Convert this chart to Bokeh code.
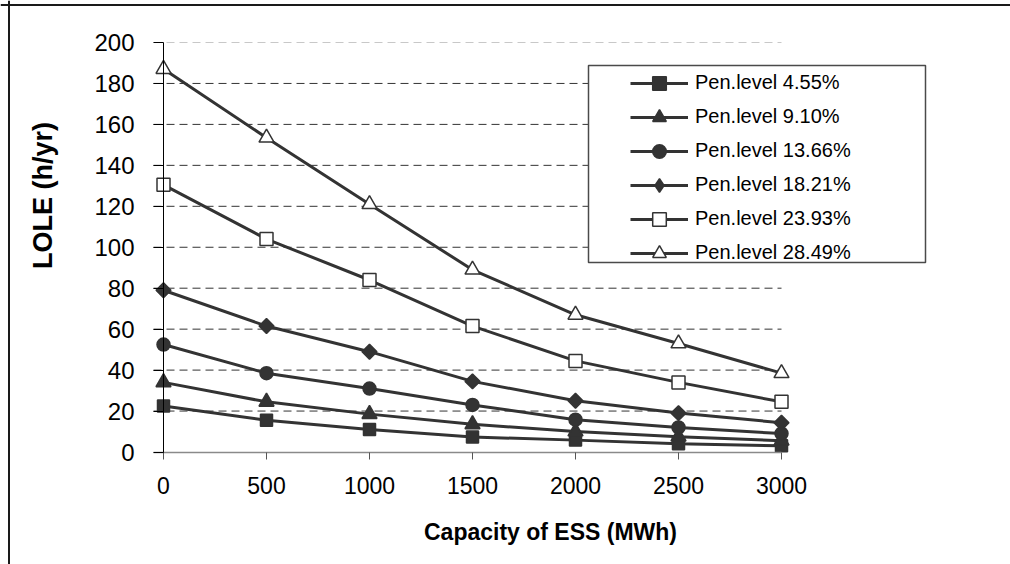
from math import pi
from bokeh.plotting import figure
from bokeh.models import (Range1d, LinearAxis, FixedTicker, Legend, LegendItem,
                          Label, Span)
from bokeh.embed import file_html
from bokeh.resources import INLINE

# ---------------- data ----------------
capacity = [0, 500, 1000, 1500, 2000, 2500, 3000]
pen_4_55 = [22.5, 15.5, 11, 7.3, 5.8, 4, 3]
pen_9_10 = [34, 24.5, 18.5, 13.5, 10, 7.5, 5.5]
pen_13_66 = [52.5, 38.5, 31, 23, 15.8, 12, 9]
pen_18_21 = [79, 61.5, 49, 34.5, 25, 19, 14.3]
pen_23_93 = [130.5, 104, 84, 61.5, 44.5, 34, 24.5]
pen_28_49 = [187, 153.5, 121, 89, 67, 53, 38.5]
series_names = ["Pen.level 4.55%", "Pen.level 9.10%", "Pen.level 13.66%",
                "Pen.level 18.21%", "Pen.level 23.93%", "Pen.level 28.49%"]
x_ticks = [0, 500, 1000, 1500, 2000, 2500, 3000]
y_ticks = [0, 20, 40, 60, 80, 100, 120, 140, 160, 180, 200]
x_title = "Capacity of ESS (MWh)"
y_title = "LOLE (h/yr)"

# ---------------- layout (pixel geometry) ----------------
W, H = 1010, 564
X0_PX, X1_PX = 163.0, 781.0     # pixel of x=0 and x=3000
Y0_PX, Y1_PX = 451.5, 42.0      # pixel of y=0 and y=200
XMAX, YMAX = 3000.0, 200.0
kx = (X1_PX - X0_PX) / XMAX
ky = (Y0_PX - Y1_PX) / YMAX


def px2x(px):
    return (px - X0_PX) / kx


def py2y(py):
    return (Y0_PX - py) / ky


FONT = "Liberation Sans"
INK = "#333333"
NAN = float("nan")

p = figure(width=W, height=H, output_backend="svg", toolbar_location=None,
           x_range=Range1d(px2x(0), px2x(W)), y_range=Range1d(py2y(H), py2y(0)),
           x_axis_location=None, y_axis_location=None,
           min_border=0, min_border_left=0, min_border_right=0,
           min_border_top=0, min_border_bottom=0)
p.outline_line_color = None
p.xgrid.visible = False
p.ygrid.visible = False
p.background_fill_color = "white"
p.border_fill_color = "white"

# outer frame lines (left and top)
p.add_layout(Span(location=px2x(8.5), dimension="height", line_color="#1a1a1a", line_width=2))
p.add_layout(Span(location=py2y(4.5), dimension="width", line_color="#1a1a1a", line_width=2))

# dashed horizontal gridlines
tick_len_px = 10
grid_vals = [v for v in y_ticks if v > 0]
grid_cols = ["#c8c8c8" if v == max(y_ticks) else "#333333" for v in grid_vals]
p.segment(x0=[px2x(X0_PX - tick_len_px)] * len(grid_vals), x1=[XMAX] * len(grid_vals),
          y0=grid_vals, y1=grid_vals, line_color=grid_cols, line_width=1,
          line_dash="8 5")

# legend box (opaque white)
LG_L, LG_R, LG_T, LG_B = 588, 925, 65, 262
p.quad(left=[px2x(LG_L)], right=[px2x(LG_R)], top=[py2y(LG_T)], bottom=[py2y(LG_B)],
       fill_color="white", line_color="#4a4a4a", line_width=1.5)

# axes
yaxis = LinearAxis(fixed_location=0, bounds=(0, YMAX), ticker=FixedTicker(ticks=y_ticks))
yaxis.axis_line_color = "black"
yaxis.axis_line_width = 1
yaxis.major_tick_line_color = "black"
yaxis.major_tick_out = tick_len_px
yaxis.major_tick_in = 0
yaxis.minor_tick_line_color = None
yaxis.major_label_text_font = FONT
yaxis.major_label_text_font_size = "24px"
yaxis.major_label_text_color = "black"
yaxis.major_label_standoff = 19
p.add_layout(yaxis, "left")

xaxis = LinearAxis(fixed_location=0, bounds=(px2x(X0_PX - tick_len_px), XMAX),
                   ticker=FixedTicker(ticks=x_ticks))
xaxis.axis_line_color = "#8a8a8a"
xaxis.axis_line_width = 1.5
xaxis.major_tick_line_color = "#555555"
xaxis.major_tick_out = 7
xaxis.major_tick_in = 0
xaxis.minor_tick_line_color = None
xaxis.major_label_text_font = FONT
xaxis.major_label_text_font_size = "23px"
xaxis.major_label_text_color = "black"
xaxis.major_label_standoff = 18
p.add_layout(xaxis, "below")

# series
styles = [
    dict(marker="square", size=12, fill_color=INK, angle=0, legend_marker="square"),
    dict(marker="triangle", size=15, fill_color=INK, angle=0, legend_marker="triangle"),
    dict(marker="circle", size=13, fill_color=INK, angle=0, legend_marker="circle"),
    dict(marker="square", size=10.5, fill_color=INK, angle=pi / 4, legend_marker="diamond"),
    dict(marker="square", size=13, fill_color="white", angle=0, legend_marker="square"),
    dict(marker="triangle", size=15, fill_color="white", angle=0, legend_marker="triangle"),
]
all_series = [pen_4_55, pen_9_10, pen_13_66, pen_18_21, pen_23_93, pen_28_49]

items = []
for name, ys, st in zip(series_names, all_series, styles):
    lr = p.line(capacity, ys, line_color=INK, line_width=3)
    sr = p.scatter(capacity, ys, marker=st["marker"], size=st["size"], angle=st["angle"],
                   fill_color=st["fill_color"], line_color=INK, line_width=1.5)
    if st["legend_marker"] != st["marker"]:
        # legend swatches are drawn unrotated: give the legend its own (undrawn) marker shape
        sr = p.scatter([NAN], [NAN], marker=st["legend_marker"], size=st["size"],
                       fill_color=st["fill_color"], line_color=INK, line_width=1.5)
    items.append(LegendItem(label=name, renderers=[lr, sr]))

row_h = 34
legend = Legend(items=items, location=(630, H - (82.7 + 5 * row_h + row_h / 2)),
                orientation="vertical",
                glyph_width=58, glyph_height=row_h, label_height=row_h, spacing=0,
                padding=0, margin=0, label_standoff=7,
                label_text_font=FONT, label_text_font_size="20px", label_text_color="black",
                border_line_color=None, background_fill_alpha=0)
p.add_layout(legend, "center")

# axis titles
p.add_layout(Label(x=px2x(42), y=py2y(195), text=y_title, angle=pi / 2,
                   text_align="center", text_baseline="middle", text_font=FONT,
                   text_font_size="27px", text_font_style="bold", text_color="black"))
p.add_layout(Label(x=px2x(550), y=py2y(531), text=x_title,
                   text_align="center", text_baseline="middle", text_font=FONT,
                   text_font_size="23px", text_font_style="bold", text_color="black"))

open("out.html", "w").write(file_html(p, INLINE))
